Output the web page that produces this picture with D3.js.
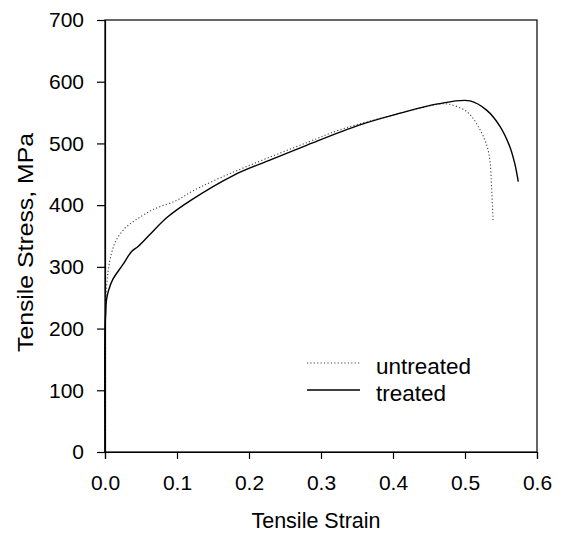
<!DOCTYPE html>
<html>
<head>
<meta charset="utf-8">
<script src="https://cdn.jsdelivr.net/npm/d3@7"></script>
<style>
  body { margin: 0; background: #fff; }
  text { font-family: "Liberation Sans", Arial, sans-serif; fill: #000; }
</style>
</head>
<body>
<div id="chart"></div>
<script>
// tensile curves (strain, stress in MPa)
const untreatedStrain = [0, 0.0, 0.001, 0.004, 0.009, 0.016, 0.028, 0.044, 0.067, 0.1, 0.122, 0.15, 0.206, 0.282, 0.326, 0.41, 0.456, 0.475, 0.503, 0.521, 0.531, 0.535, 0.537, 0.539]
const untreatedStress = [0, 200, 246, 290, 322, 344, 363, 377, 393, 408, 423, 439, 467, 502, 522, 549, 562, 564, 551, 522, 494, 468, 425, 376]

const treatedStrain = [0, 0.0, 0.001, 0.002, 0.005, 0.011, 0.025, 0.037, 0.046, 0.062, 0.086, 0.118, 0.178, 0.229, 0.28, 0.354, 0.41, 0.462, 0.507, 0.53, 0.549, 0.5625, 0.569, 0.574]
const treatedStress = [0, 200, 225, 246, 262, 280, 304, 325, 333, 352, 380, 407, 448, 473, 497, 530, 549, 564, 569, 554, 527, 494, 468, 438]

const xTicks = [0, 0.1, 0.2, 0.3, 0.4, 0.5, 0.6]
const yTicks = [0, 100, 200, 300, 400, 500, 600, 700]
const seriesNames = ["untreated", "treated"]

const width = 564
const height = 533
const margins = { left: 105, right: 27, top: 20, bottom: 81 }

const svg = d3.select("#chart").append("svg")
  .attr("width", width)
  .attr("height", height)

const xScale = d3.scaleLinear().domain([0, 0.6]).range([margins.left, width - margins.right])
const yScale = d3.scaleLinear().domain([0, 700]).range([height - margins.bottom, margins.top])

// frame
svg.append("rect")
  .attr("x", xScale(0))
  .attr("y", yScale(700))
  .attr("width", xScale(0.6) - xScale(0))
  .attr("height", yScale(0) - yScale(700))
  .attr("fill", "none")
  .attr("stroke", "#000")
  .attr("stroke-width", 1.2)

// axes
const xAxis = d3.axisBottom(xScale).tickValues(xTicks).tickFormat(d3.format(".1f")).tickSize(7).tickPadding(16)
const yAxis = d3.axisLeft(yScale).tickValues(yTicks).tickFormat(d3.format("d")).tickSize(8).tickPadding(13)

const gx = svg.append("g").attr("transform", `translate(0, ${yScale(0)})`).call(xAxis)
const gy = svg.append("g").attr("transform", `translate(${xScale(0)}, 0)`).call(yAxis)
for (const g of [gx, gy]) {
  g.select(".domain").attr("stroke-width", 1.2)
  g.selectAll(".tick line").attr("stroke-width", 1.2)
  g.selectAll(".tick text").attr("font-size", 21).attr("font-family", "Liberation Sans, Arial, sans-serif")
}

// axis titles
svg.append("text")
  .attr("x", 316)
  .attr("y", 528)
  .attr("text-anchor", "middle")
  .attr("font-size", 21.5)
  .text("Tensile Strain")

// the y title is drawn a bit stretched along its length in the original
svg.append("text")
  .attr("transform", "translate(33, 242.5) rotate(-90)")
  .attr("text-anchor", "middle")
  .attr("font-size", 22)
  .attr("textLength", 219)
  .attr("lengthAdjust", "spacingAndGlyphs")
  .text("Tensile Stress, MPa")

// curves
const line = d3.line()
  .x((d) => xScale(d[0]))
  .y((d) => yScale(d[1]))
  .curve(d3.curveCatmullRom.alpha(0.5))

const untreated = untreatedStrain.map((s, i) => [s, untreatedStress[i]])
const treated = treatedStrain.map((s, i) => [s, treatedStress[i]])

svg.append("path")
  .datum(untreated)
  .attr("d", line)
  .attr("fill", "none")
  .attr("stroke", "#444")
  .attr("stroke-width", 1.1)
  .attr("stroke-dasharray", "1.2,2.2")

svg.append("path")
  .datum(treated)
  .attr("d", line)
  .attr("fill", "none")
  .attr("stroke", "#000")
  .attr("stroke-width", 1.4)

// legend
const legend = svg.append("g").attr("transform", "translate(307, 363)")
seriesNames.forEach((name, i) => {
  const row = legend.append("g").attr("transform", `translate(0, ${i * 27})`)
  row.append("line")
    .attr("x1", 0).attr("x2", 53)
    .attr("y1", 0).attr("y2", 0)
    .attr("stroke", i === 0 ? "#444" : "#000")
    .attr("stroke-width", i === 0 ? 1.1 : 1.4)
    .attr("stroke-dasharray", i === 0 ? "1.2,2.2" : null)
  row.append("text")
    .attr("x", 69)
    .attr("y", 11)
    .attr("font-size", 22.5)
    .text(name)
})
</script>
</body>
</html>
